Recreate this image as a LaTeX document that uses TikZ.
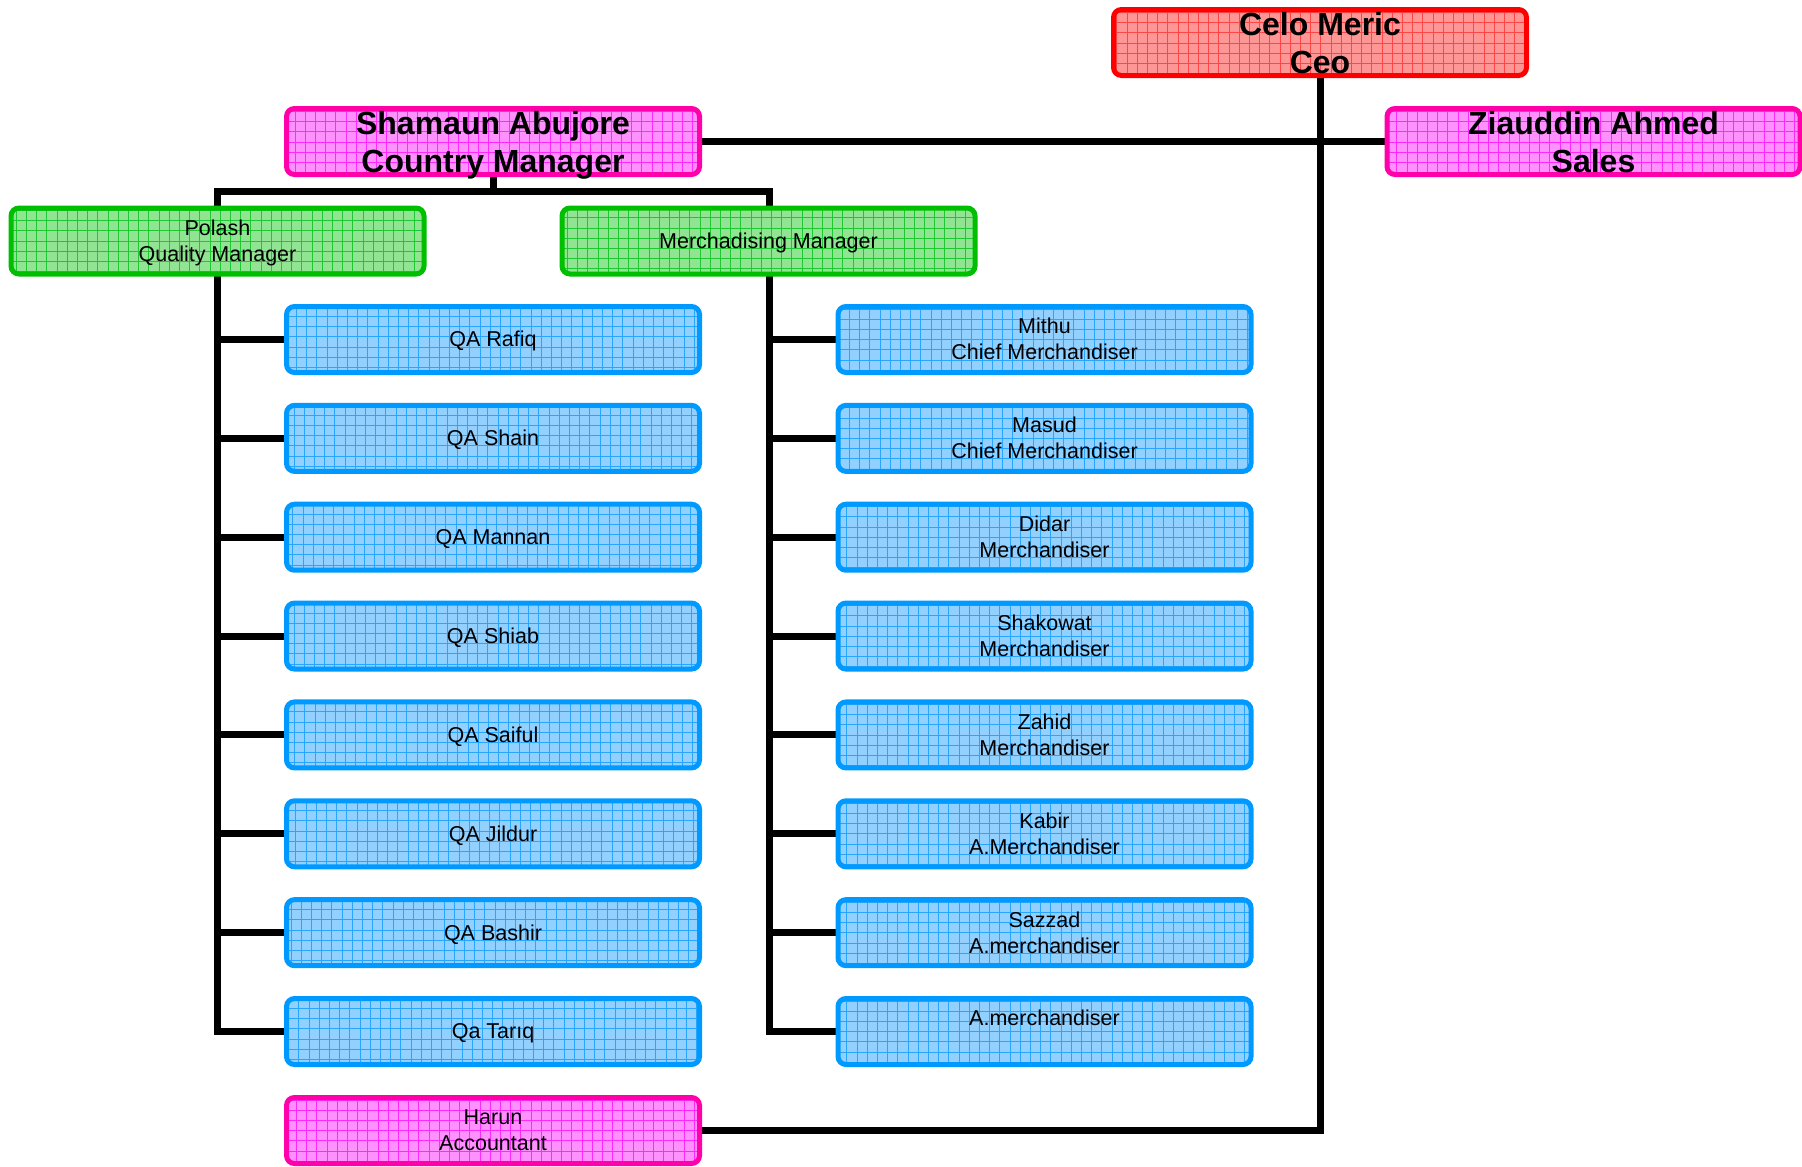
\documentclass[tikz,border=0pt]{standalone}
\usepackage{fontspec}
\setmainfont{Liberation Sans}
\usetikzlibrary{backgrounds}
\definecolor{redB}{RGB}{255,0,0}
\definecolor{redF}{RGB}{255,150,150}
\definecolor{redG}{RGB}{255,70,70}
\definecolor{magB}{RGB}{255,0,170}
\definecolor{magF}{RGB}{255,145,255}
\definecolor{magG}{RGB}{255,40,255}
\definecolor{grnB}{RGB}{0,190,0}
\definecolor{grnF}{RGB}{145,228,145}
\definecolor{grnG}{RGB}{30,200,50}
\definecolor{bluB}{RGB}{0,153,255}
\definecolor{bluF}{RGB}{145,208,255}
\definecolor{bluG}{RGB}{40,165,255}
\tikzset{
  box/.style={rounded corners=8pt, line width=5pt, minimum width=413pt, minimum height=66pt,
    inner sep=0pt, align=center, font=\fontsize{21.5}{26}\selectfont,
    text height=19.4pt, text depth=4.6pt},
  twoline/.style={text height=45.4pt},
  gridded/.style={path picture={\draw[#1, line width=0.7pt, step=10.2pt]
    ([xshift=-20pt,yshift=-20pt]path picture bounding box.south west) grid
    ([xshift=20pt,yshift=20pt]path picture bounding box.north east);}},
  bigtext/.style={font=\fontsize{32}{38}\selectfont\bfseries, text height=62pt, text depth=0pt},
  redbox/.style={box, draw=redB, fill=redF, gridded=redG, bigtext},
  magbox/.style={box, draw=magB, fill=magF, gridded=magG},
  grnbox/.style={box, draw=grnB, fill=grnF, gridded=grnG},
  blubox/.style={box, draw=bluB, fill=bluF, gridded=bluG},
  conn/.style={line width=7pt, line join=miter, draw=black},
}
\begin{document}
\begin{tikzpicture}[x=1pt, y=-1pt]
\useasboundingbox (0,0) rectangle (1802,1167);
\node[redbox] (celo) at (1320,42.5) {Celo Meric\\Ceo};
\node[magbox, bigtext] (sham) at (493,141.5) {Shamaun Abujore\\Country Manager};
\node[magbox, bigtext] (zia) at (1593.5,141.5) {Ziauddin Ahmed\\Sales};
\node[grnbox, twoline] (polash) at (217.5,241) {Polash\\Quality Manager};
\node[grnbox] (merch) at (768.5,241) {Merchadising Manager};
\foreach \i/\t in {1/QA Rafiq, 2/QA Shain, 3/QA Mannan, 4/QA Shiab, 5/QA Saiful, 6/QA Jildur, 7/QA Bashir, 8/Qa Tarıq}
  \node[blubox] (qa\i) at (493,{339.5+98.86*(\i-1)}) {\t};
\node[blubox, twoline] (m1) at (1044.5,339.5) {Mithu\\Chief Merchandiser};
\node[blubox, twoline] (m2) at (1044.5,438.36) {Masud\\Chief Merchandiser};
\node[blubox, twoline] (m3) at (1044.5,537.22) {Didar\\Merchandiser};
\node[blubox, twoline] (m4) at (1044.5,636.08) {Shakowat\\Merchandiser};
\node[blubox, twoline] (m5) at (1044.5,734.94) {Zahid\\Merchandiser};
\node[blubox, twoline] (m6) at (1044.5,833.8) {Kabir\\A.Merchandiser};
\node[blubox, twoline] (m7) at (1044.5,932.66) {Sazzad\\A.merchandiser};
\node[blubox, twoline] (m8) at (1044.5,1031.5) {A.merchandiser\\\mbox{}};
\node[magbox, twoline] (harun) at (493,1130.5) {Harun\\Accountant};
\coordinate (qbus) at (217,191);
\coordinate (mbus) at (769,191);
\begin{pgfonlayer}{background}
\draw[conn] (sham.center) -- (sham.center |- qbus);
\draw[conn] (qa8.west) -| (qbus) -- (mbus) |- (m8.west);
\foreach \i in {1,...,7} {
  \draw[conn] (qa\i.west) -- (qa\i.west -| qbus);
  \draw[conn] (m\i.west) -- (m\i.west -| mbus);
}
\draw[conn] (sham.east) -- (zia.west);
\draw[conn] (celo.center) |- (harun.east);
\end{pgfonlayer}
\end{tikzpicture}
\end{document}
